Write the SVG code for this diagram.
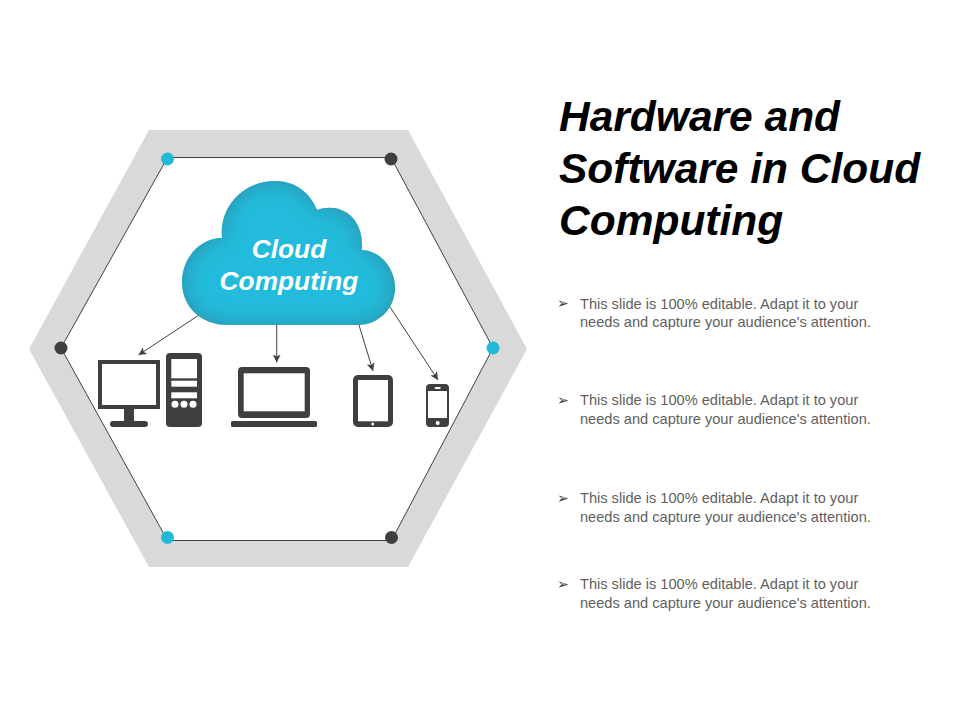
<svg xmlns="http://www.w3.org/2000/svg" width="960" height="720" viewBox="0 0 960 720">
<style>
.dark{fill:#3f3f3f}
.cut{fill:#fff}
.edge{fill:#fff;stroke:#404040;stroke-width:1}
.link{stroke:#404040;stroke-width:1;fill:none;marker-end:url(#arrow)}
.blue{fill:#22b8d8}
.title{font-family:"Liberation Sans",Arial,sans-serif;font-weight:700;font-style:italic;font-size:42.500px;fill:#000}
.cloudtext{font-family:"Liberation Sans",Arial,sans-serif;font-weight:700;font-style:italic;font-size:26.300px;fill:#fff;text-anchor:middle}
.body{font-family:"Liberation Sans",Arial,sans-serif;font-size:14.600px;fill:#5f5f5f}
.bullet{font-family:"DejaVu Sans",sans-serif;font-size:14px;fill:#404040}
</style>
<defs>
<marker id="arrow" markerUnits="userSpaceOnUse" markerWidth="10" markerHeight="8" refX="8" refY="4" orient="auto">
<path d="M0 0L8 4L0 8L2 4Z" fill="#404040"/>
</marker>
<path id="cloudshape" d="M228 325C200 325 182 306 182 282C182 258 200 238 222 238C219 206 244 181 275 181C296 181 310 193 317 210C339 202 364 215 362 250C381 251 395 268 395 288C395 309 378 325 358 325Z"/>
<clipPath id="cloudclip"><use href="#cloudshape"/></clipPath>
<filter id="soft" x="-20%" y="-20%" width="140%" height="140%"><feGaussianBlur stdDeviation="11"/></filter>
</defs>
<g id="hexagon">
<path d="M149 130H408L527 349L408 567H149L29 349Z" fill="#d9d9d9"/>
<path class="edge" d="M167.500 157.500H391L493 348L391.500 540.500H167.500L61 348Z"/>
</g>
<g id="dots">
<circle class="blue" cx="167.500" cy="159" r="6.500"/>
<circle class="dark" cx="391" cy="159" r="6.500"/>
<circle class="blue" cx="493" cy="348" r="6.500"/>
<circle class="dark" cx="391.500" cy="537.500" r="6.500"/>
<circle class="blue" cx="167.500" cy="537.500" r="6.500"/>
<circle class="dark" cx="61" cy="348" r="6.500"/>
</g>
<g id="connectors">
<path class="link" d="M199 315L138.500 355"/>
<path class="link" d="M276.700 325V362.500"/>
<path class="link" d="M359 325L373 371"/>
<path class="link" d="M390 307L438 380"/>
</g>
<g id="cloud">
<use href="#cloudshape" fill="#2b8fa9"/>
<g clip-path="url(#cloudclip)"><use href="#cloudshape" fill="#24bbdb" filter="url(#soft)"/></g>
<text class="cloudtext" x="289" y="258">Cloud</text>
<text class="cloudtext" x="289" y="290">Computing</text>
</g>
<g id="desktop">
<path class="dark" fill-rule="evenodd" d="M98 360H160V409H134V421H145A3 3 0 0 1 145 427H113A3 3 0 0 1 113 421H124V409H98ZM102 364V405H156V364Z"/>
<rect class="dark" x="166" y="353" width="36" height="74" rx="4"/>
<rect class="cut" x="171.300" y="359" width="25.700" height="19.300"/>
<rect class="cut" x="171.300" y="380.700" width="25.700" height="6"/>
<rect class="cut" x="171.300" y="392.300" width="25.700" height="6"/>
<circle class="cut" cx="175" cy="404.300" r="3.500"/>
<circle class="cut" cx="184" cy="404.300" r="3.500"/>
<circle class="cut" cx="193" cy="404.300" r="3.500"/>
</g>
<g id="laptop">
<rect class="dark" x="238" y="367" width="72" height="51" rx="4"/>
<rect class="cut" x="243.700" y="373.300" width="61" height="38"/>
<rect class="dark" x="231" y="421" width="86" height="6" rx="1.500"/>
</g>
<g id="tablet">
<rect class="dark" x="353" y="375" width="40" height="52" rx="5"/>
<rect class="cut" x="358" y="380" width="30" height="41.300"/>
<rect class="cut" x="371.500" y="422.800" width="2.500" height="2.500"/>
</g>
<g id="phone">
<rect class="dark" x="426" y="384" width="23" height="43" rx="4"/>
<rect class="cut" x="428" y="391" width="19" height="27"/>
<rect class="cut" x="434.700" y="387" width="6" height="2" rx="1"/>
<circle class="cut" cx="437.700" cy="423" r="2"/>
</g>
<g id="title">
<text class="title" x="559" y="131">Hardware and</text>
<text class="title" x="559" y="183">Software in Cloud</text>
<text class="title" x="559" y="235">Computing</text>
</g>
<g id="item1">
<text class="bullet" x="557" y="308">➢</text>
<text class="body" x="580" y="308.500">This slide is 100% editable. Adapt it to your</text>
<text class="body" x="580" y="327">needs and capture your audience's attention.</text>
</g>
<g id="item2">
<text class="bullet" x="557" y="405">➢</text>
<text class="body" x="580" y="405">This slide is 100% editable. Adapt it to your</text>
<text class="body" x="580" y="424">needs and capture your audience's attention.</text>
</g>
<g id="item3">
<text class="bullet" x="557" y="503">➢</text>
<text class="body" x="580" y="503">This slide is 100% editable. Adapt it to your</text>
<text class="body" x="580" y="522">needs and capture your audience's attention.</text>
</g>
<g id="item4">
<text class="bullet" x="557" y="589">➢</text>
<text class="body" x="580" y="589">This slide is 100% editable. Adapt it to your</text>
<text class="body" x="580" y="608">needs and capture your audience's attention.</text>
</g>
</svg>
